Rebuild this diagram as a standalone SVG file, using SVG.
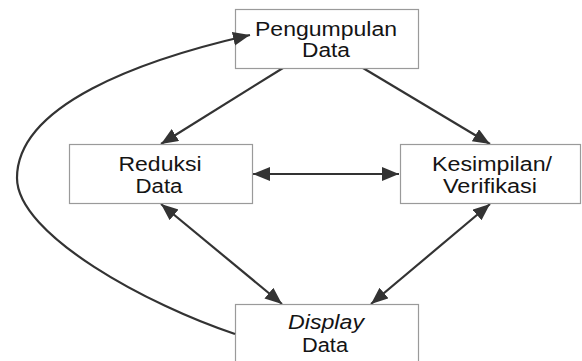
<svg xmlns="http://www.w3.org/2000/svg" width="582" height="361" viewBox="0 0 582 361">
  <style>
    .box { fill: #ffffff; stroke: #9a9a9a; stroke-width: 1.2; }
    .lbl { font-family: "Liberation Sans", Arial, sans-serif; font-size: 20px; fill: #141414; text-anchor: middle; }
    .it { font-style: italic; }
    .edge { fill: none; stroke: #333333; stroke-width: 2.2; }
  </style>
  <defs>
    <marker id="ah" markerUnits="userSpaceOnUse" markerWidth="20" markerHeight="16" refX="17" refY="7" orient="auto-start-reverse">
      <path d="M0,0 L17,7 L0,14 Z" fill="#333333"/>
    </marker>
  </defs>
  <rect width="582" height="361" fill="#ffffff"/>

  <g id="connectors">
    <line class="edge" x1="283" y1="68" x2="161" y2="144" marker-end="url(#ah)"/>
    <line class="edge" x1="363" y1="68" x2="490" y2="144" marker-end="url(#ah)"/>
    <line class="edge" x1="253" y1="174" x2="399" y2="174" marker-start="url(#ah)" marker-end="url(#ah)"/>
    <line class="edge" x1="161" y1="204" x2="282" y2="304" marker-start="url(#ah)" marker-end="url(#ah)"/>
    <line class="edge" x1="490" y1="204" x2="371" y2="304" marker-start="url(#ah)" marker-end="url(#ah)"/>
  </g>

  <g id="node-pengumpulan">
    <rect class="box" x="235.5" y="9.5" width="183" height="59"/>
    <text class="lbl" x="326" y="36" textLength="142" lengthAdjust="spacingAndGlyphs">Pengumpulan</text>
    <text class="lbl" x="326" y="57" textLength="48" lengthAdjust="spacingAndGlyphs">Data</text>
  </g>

  <g id="node-reduksi">
    <rect class="box" x="69.5" y="144.5" width="183" height="59"/>
    <text class="lbl" x="160" y="171" textLength="83" lengthAdjust="spacingAndGlyphs">Reduksi</text>
    <text class="lbl" x="159" y="193" textLength="47" lengthAdjust="spacingAndGlyphs">Data</text>
  </g>

  <g id="node-kesimpilan">
    <rect class="box" x="400.5" y="144.5" width="180" height="59"/>
    <text class="lbl" x="492" y="171" textLength="120" lengthAdjust="spacingAndGlyphs">Kesimpilan/</text>
    <text class="lbl" x="490" y="193" textLength="94" lengthAdjust="spacingAndGlyphs">Verifikasi</text>
  </g>

  <g id="node-display">
    <rect class="box" x="235.5" y="304.5" width="183" height="70"/>
    <text class="lbl it" x="326" y="329" textLength="76" lengthAdjust="spacingAndGlyphs">Display</text>
    <text class="lbl" x="325" y="352" textLength="46" lengthAdjust="spacingAndGlyphs">Data</text>
  </g>

  <g id="connector-loop">
    <path class="edge" d="M235,334 C150,306 17,235 17,178 C17,105 140,60 250,35" marker-end="url(#ah)"/>
  </g>
</svg>
